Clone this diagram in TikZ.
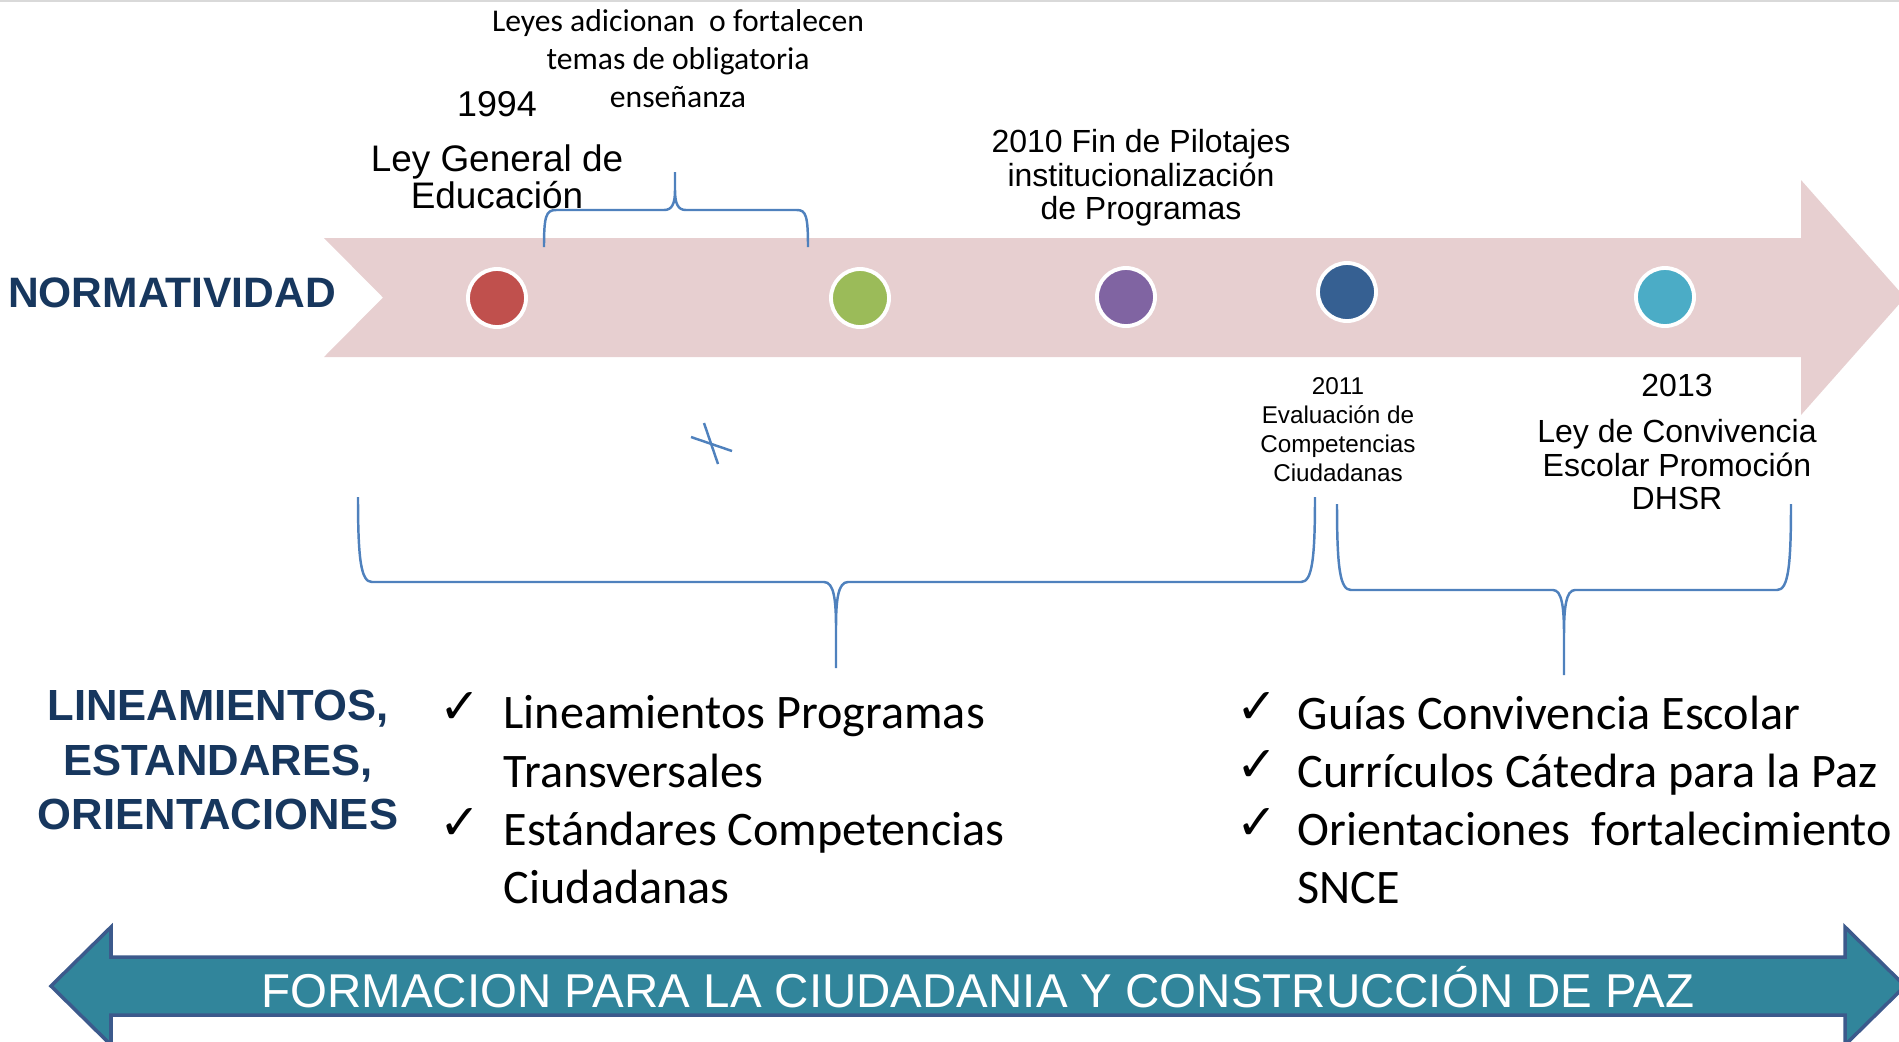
\documentclass[tikz,border=0pt]{standalone}
\usepackage{fontspec}
\setmainfont{Liberation Sans}
\newfontfamily\calibri{Carlito}
\newfontfamily\symfont{DejaVu Sans}
\definecolor{bandpink}{RGB}{231,207,208}
\definecolor{titlenavy}{RGB}{23,55,94}
\definecolor{braceblue}{RGB}{79,129,189}
\definecolor{dotred}{RGB}{192,80,77}
\definecolor{dotgreen}{RGB}{155,187,89}
\definecolor{dotpurple}{RGB}{128,100,162}
\definecolor{dotblue}{RGB}{54,96,146}
\definecolor{dotcyan}{RGB}{75,172,198}
\definecolor{pazteal}{RGB}{49,133,155}
\definecolor{pazedge}{RGB}{60,90,140}
\begin{document}
\begin{tikzpicture}
    [x=0.01cm,y=-0.01cm,
     dot/.style={circle,draw=white,line width=1.1pt,minimum size=5.8mm,inner sep=0pt},
     title/.style={font=\bfseries\fontsize{12.4}{15.4}\selectfont,text=titlenavy,align=center,inner sep=0pt},
     hito/.style={align=center,inner sep=0pt},
     item/.style={font=\calibri\fontsize{13.7}{16.5}\selectfont,align=left,anchor=base west,inner sep=0pt},
     tick/.style={font=\symfont\fontsize{14}{16}\selectfont,anchor=base,inner sep=0pt},
     brace/.style={draw=braceblue,line width=0.7pt}]
    \useasboundingbox (0,0) rectangle (1899,1041);
    \clip (0,0) rectangle (1899,1041);
    \draw[black!15,line width=0.8pt] (0,1) -- (1899,1);
    % linea de tiempo
    \fill[bandpink] (324,238) -- (1801,238) -- (1801,180) -- (1905,297.5) -- (1801,415)
      -- (1801,357) -- (324,357) -- (383,297.5) -- cycle;
    \node[title,font=\bfseries\fontsize{12.1}{14}\selectfont] (norma) at (172,293) {NORMATIVIDAD};
    \node[dot,fill=dotred] (d1994) at (497,298) {};
    \node[dot,fill=dotgreen] (dleyes) at (860,298) {};
    \node[dot,fill=dotpurple] (d2010) at (1126,297) {};
    \node[dot,fill=dotblue] (d2011) at (1347,292) {};
    \node[dot,fill=dotcyan] (d2013) at (1665,297) {};
    \node[hito,font=\calibri\fontsize{9}{10.8}\selectfont] (leyes) at (678,59)
      {Leyes adicionan\ \ o fortalecen\\temas de obligatoria\\enseñanza};
    \node[hito,font=\fontsize{10.2}{12}\selectfont] (a1994) at (497,104) {1994};
    \node[hito,font=\fontsize{10.5}{10.6}\selectfont] (lge) at (497,177) {Ley General de\\Educación};
    \node[hito,font=\fontsize{9.1}{9.5}\selectfont] (a2010) at (1141,178)
      {2010 Fin de Pilotajes\\institucionalización\\de Programas};
    \node[hito,font=\fontsize{6.9}{8.25}\selectfont] (a2011) at (1338,430)
      {2011\\Evaluación de\\Competencias\\Ciudadanas};
    \node[hito,font=\fontsize{9.1}{9.5}\selectfont] (a2013) at (1677,442)
      {2013\\[3.6pt]Ley de Convivencia\\Escolar Promoción\\DHSR};
    % llaves
    \draw[brace] (544,247) .. controls (544,216) and (546,210) .. (556,210) -- (664,210)
      .. controls (672,210) and (675,204) .. (675,190) -- (675,172) -- (675,190)
      .. controls (675,204) and (678,210) .. (686,210) -- (797,210)
      .. controls (806,210) and (808,216) .. (808,247);
    \draw[brace] (358,497) .. controls (358,560) and (361,582) .. (372,582) -- (824,582)
      .. controls (834,582) and (836,600) .. (836,628) -- (836,668) -- (836,628)
      .. controls (836,600) and (838,582) .. (848,582) -- (1301,582)
      .. controls (1312,582) and (1315,560) .. (1315,497);
    \draw[brace] (1337,504) .. controls (1337,568) and (1340,590) .. (1351,590) -- (1553,590)
      .. controls (1562,590) and (1564,608) .. (1564,634) -- (1564,675) -- (1564,634)
      .. controls (1564,608) and (1566,590) .. (1575,590) -- (1777,590)
      .. controls (1788,590) and (1791,568) .. (1791,504);
    \draw[brace] (704,423) -- (718,464);
    \draw[brace] (691,437) -- (732,451);
    % lineamientos
    \node[title] (linea) at (218,760) {LINEAMIENTOS,\\ESTANDARES,\\ORIENTACIONES};
    \node[tick] (c1) at (460,723) {✓};
    \node[item] (l1) at (503,787) {Lineamientos Programas\\Transversales};
    \node[tick] (c2) at (460,839) {✓};
    \node[item] (l2) at (503,903) {Estándares Competencias\\Ciudadanas};
    \node[tick] (c3) at (1257,723) {✓};
    \node[item] (r1) at (1297,729) {Guías Convivencia Escolar};
    \node[tick] (c4) at (1257,781) {✓};
    \node[item] (r2) at (1297,787) {Currículos Cátedra para la Paz};
    \node[tick] (c5) at (1257,839) {✓};
    \node[item] (r3) at (1297,903) {Orientaciones\ \ fortalecimiento\\SNCE};
    % flecha inferior
    \draw[pazedge,fill=pazteal,line width=1pt] (51,986) -- (111,927) -- (111,957) -- (1845,957)
      -- (1845,927) -- (1905,986) -- (1845,1045) -- (1845,1015) -- (111,1015) -- (111,1045) -- cycle;
    \node[font=\fontsize{13.5}{16}\selectfont,text=white,inner sep=0pt] (paz) at (978,987)
      {FORMACION PARA LA CIUDADANIA Y CONSTRUCCIÓN DE PAZ};
\end{tikzpicture}
\end{document}
